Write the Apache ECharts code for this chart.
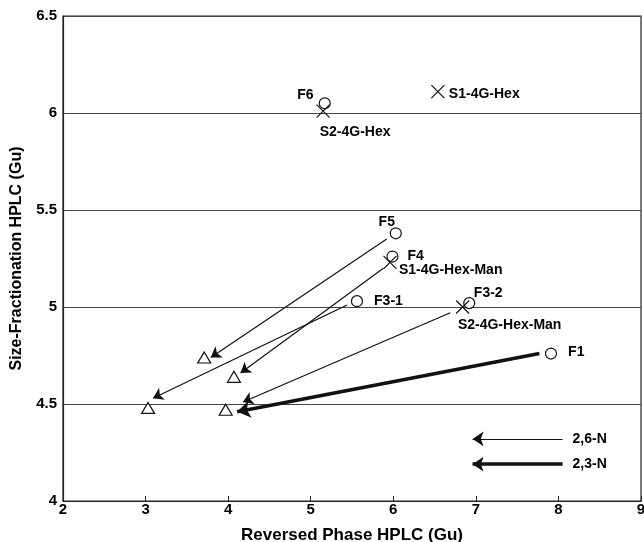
<!DOCTYPE html>
<html>
<head>
<meta charset="utf-8">
<script src="https://cdn.jsdelivr.net/npm/echarts@6/dist/echarts.min.js"></script>
<style>
  html, body { margin: 0; padding: 0; background: #fff; }
  #chart { width: 644px; height: 542px; }
</style>
</head>
<body>
<div id="chart"></div>
<script>
// circles: fractions
const circleNames = ['F6', 'F5', 'F4', 'F3-1', 'F3-2', 'F1'];
const circleX = [5.17, 6.03, 5.99, 5.56, 6.92, 7.91];
const circleY = [6.05, 5.38, 5.26, 5.03, 5.02, 4.76];

// crosses: standards
const crossNames = ['S1-4G-Hex', 'S2-4G-Hex', 'S1-4G-Hex-Man', 'S2-4G-Hex-Man'];
const crossX = [6.54, 5.15, 5.96, 6.84];
const crossY = [6.11, 6.01, 5.23, 5.00];

// triangles: after treatment
const triX = [3.03, 3.71, 4.07, 3.97];
const triY = [4.48, 4.74, 4.64, 4.47];

// arrows (2,6-N thin, 2,3-N thick)
const thinFromX = [5.92, 5.88, 5.44, 6.69];
const thinFromY = [5.35, 5.20, 5.01, 4.97];
const thinToX = [3.79, 4.15, 3.09, 4.18];
const thinToY = [4.74, 4.66, 4.53, 4.51];
const thickFromX = [7.77];
const thickFromY = [4.76];
const thickToX = [4.11];
const thickToY = [4.46];

// key arrows
const keyNames = ['2,6-N', '2,3-N'];
const keyFromX = [8.05, 8.05];
const keyToX = [6.96, 6.96];
const keyY = [4.32, 4.19];

const font = 'Liberation Sans, Arial, Helvetica, sans-serif';

// label placement per point
const labelPos = {
  'F6': { position: 'left', offset: [0, -8] },
  'F5': { position: 'top', offset: [-9, 7] },
  'F4': { position: 'right', offset: [4, 0] },
  'F3-1': { position: 'right', offset: [6, 0] },
  'F3-2': { position: 'top', offset: [19, 8] },
  'F1': { position: 'right', offset: [6, -1] },
  'S1-4G-Hex': { position: 'right', offset: [-3, 2] },
  'S2-4G-Hex': { position: 'bottom', offset: [32, 0] },
  'S1-4G-Hex-Man': { position: 'right', offset: [-5, 8] },
  'S2-4G-Hex-Man': { position: 'bottom', offset: [47, -3] }
};

function pointData(names, xs, ys) {
  return xs.map((x, i) => ({
    name: names[i],
    value: [x, ys[i]],
    label: Object.assign({ show: true, formatter: '{b}' }, labelPos[names[i]])
  }));
}

function arrowData(fx, fy, tx, ty) {
  return fx.map((x, i) => ({ coords: [[x, fy[i]], [tx[i], ty[i]]] }));
}

const chart = echarts.init(document.getElementById('chart'));

chart.setOption({
  animation: false,
  textStyle: { fontFamily: font },
  grid: {
    left: 63,
    right: 3,
    top: 16,
    bottom: 41,
    containLabel: false,
    outerBoundsMode: 'none',
    show: true,
    borderColor: '#222',
    borderWidth: 1.2
  },
  xAxis: {
    type: 'value',
    min: 2,
    max: 9,
    interval: 1,
    name: 'Reversed Phase HPLC (Gu)',
    nameLocation: 'middle',
    nameGap: 26,
    nameTextStyle: { fontSize: 17, fontWeight: 'bold', color: '#000' },
    axisLine: { lineStyle: { color: '#222', width: 1.2 } },
    axisTick: { inside: true, length: 5, lineStyle: { color: '#222' } },
    axisLabel: { fontSize: 15, fontWeight: 'bold', color: '#000', margin: 1 },
    splitLine: { show: false }
  },
  yAxis: {
    type: 'value',
    min: 4,
    max: 6.5,
    interval: 0.5,
    name: 'Size-Fractionation HPLC (Gu)',
    nameLocation: 'middle',
    nameGap: 38,
    nameTextStyle: { fontSize: 16, fontWeight: 'bold', color: '#000' },
    axisLine: { lineStyle: { color: '#222', width: 1.2 } },
    axisTick: { show: false },
    axisLabel: { fontSize: 15, fontWeight: 'bold', color: '#000', margin: 6 },
    splitLine: { show: true, lineStyle: { color: '#444', width: 1 } }
  },
  series: [
    {
      type: 'lines',
      coordinateSystem: 'cartesian2d',
      symbol: ['none', 'arrow'],
      symbolSize: [0, 10],
      lineStyle: { color: '#111', width: 1.2, opacity: 1 },
      data: arrowData(thinFromX, thinFromY, thinToX, thinToY),
      z: 3
    },
    {
      type: 'lines',
      coordinateSystem: 'cartesian2d',
      symbol: ['none', 'arrow'],
      symbolSize: [0, 13],
      lineStyle: { color: '#111', width: 3.5, opacity: 1 },
      data: arrowData(thickFromX, thickFromY, thickToX, thickToY),
      z: 3
    },
    {
      type: 'lines',
      coordinateSystem: 'cartesian2d',
      symbol: ['none', 'arrow'],
      symbolSize: [0, 11],
      data: keyNames.map((n, i) => ({
        name: n,
        coords: [[keyFromX[i], keyY[i]], [keyToX[i], keyY[i]]],
        lineStyle: { color: '#111', width: i === 0 ? 1.2 : 3.5, opacity: 1 }
      })),
      label: {
        show: true,
        position: 'start',
        distance: 10,
        formatter: '{b}',
        fontSize: 14,
        fontWeight: 'bold',
        color: '#000'
      },
      z: 3
    },
    {
      name: 'fractions',
      type: 'scatter',
      symbol: 'circle',
      symbolSize: 11,
      itemStyle: { color: '#fff', borderColor: '#111', borderWidth: 1.2, opacity: 1 },
      label: { fontSize: 14, fontWeight: 'bold', color: '#000' },
      data: pointData(circleNames, circleX, circleY),
      z: 4
    },
    {
      name: 'standards',
      type: 'scatter',
      symbol: 'path://M0,0L10,10M10,0L0,10',
      symbolSize: 13,
      itemStyle: { color: 'none', borderColor: '#111', borderWidth: 1.2, opacity: 1 },
      label: { fontSize: 14, fontWeight: 'bold', color: '#000' },
      data: pointData(crossNames, crossX, crossY),
      z: 5
    },
    {
      name: 'treated',
      type: 'scatter',
      symbol: 'triangle',
      symbolSize: [13, 11],
      itemStyle: { color: '#fff', borderColor: '#111', borderWidth: 1.2, opacity: 1 },
      data: triX.map((x, i) => [x, triY[i]]),
      z: 4
    }
  ]
});
</script>
</body>
</html>
